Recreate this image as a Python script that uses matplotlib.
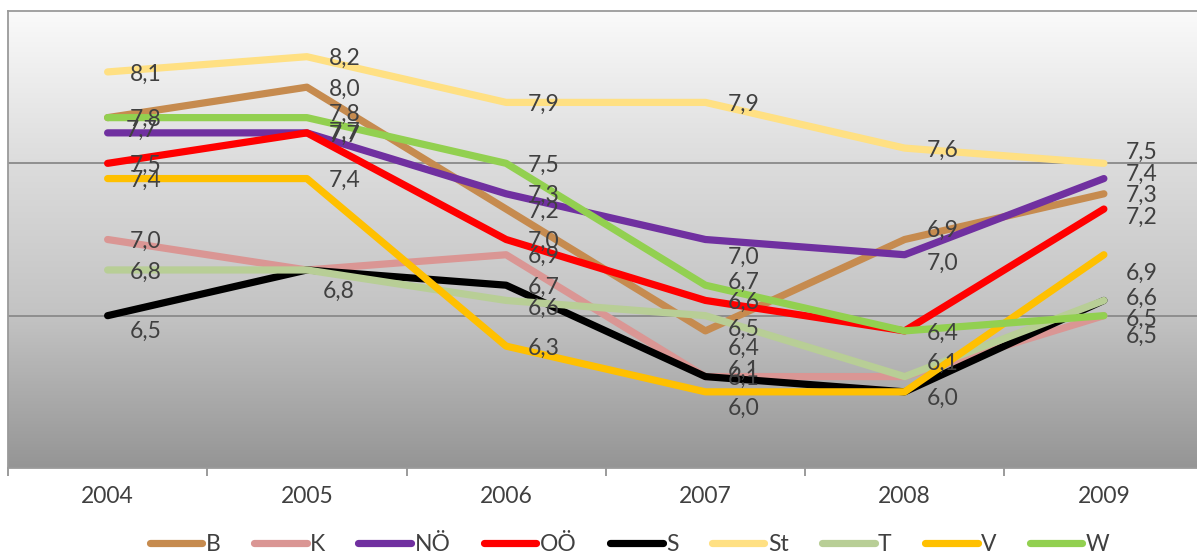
import numpy as np
import matplotlib
matplotlib.use("Agg")
import matplotlib.pyplot as plt
from matplotlib.colors import LinearSegmentedColormap

plt.rcParams['font.family'] = ['Lato', 'DejaVu Sans']

years = ['2004', '2005', '2006', '2007', '2008', '2009']
series_names = ['B', 'K', 'NÖ', 'OÖ', 'S', 'St', 'T', 'V', 'W']

B = [7.8, 8.0, 7.2, 6.4, 7.0, 7.3]
K = [7.0, 6.8, 6.9, 6.1, 6.1, 6.5]
NOE = [7.7, 7.7, 7.3, 7.0, 6.9, 7.4]
OOE = [7.5, 7.7, 7.0, 6.6, 6.4, 7.2]
S = [6.5, 6.8, 6.7, 6.1, 6.0, 6.6]
St = [8.1, 8.2, 7.9, 7.9, 7.6, 7.5]
T = [6.8, 6.8, 6.6, 6.5, 6.1, 6.6]
V = [7.4, 7.4, 6.3, 6.0, 6.0, 6.9]
W = [7.8, 7.8, 7.5, 6.7, 6.4, 6.5]

values = [B, K, NOE, OOE, S, St, T, V, W]
colors = ['#C68B4F', '#DA9694', '#7030A0', '#FF0000', '#000000',
          '#FFE083', '#B8CE96', '#FFC000', '#92D050']

# label nudges in pixels (dx, dy down), default is right of the point
nudge = {
    ('NÖ', 0): (18, -5), ('S', 0): (22, 14),
    ('W', 1): (22, -5), ('NÖ', 1): (22, -3),
    ('K', 1): (16, 19), ('T', 1): (16, 19), ('S', 1): (16, 19),
    ('T', 2): (22, 6),
    ('NÖ', 3): (22, 16), ('W', 3): (22, -5), ('T', 3): (22, 12),
    ('B', 3): (22, 15), ('K', 3): (22, -8), ('V', 3): (22, 15),
    ('NÖ', 4): (22, -26), ('B', 4): (22, 22), ('T', 4): (22, -15),
    ('K', 4): (22, -15), ('S', 4): (22, 5), ('V', 4): (22, 5),
    ('St', 5): (22, -13), ('NÖ', 5): (22, -6), ('OÖ', 5): (22, 6),
    ('V', 5): (22, 17), ('T', 5): (22, -4), ('S', 5): (22, -4),
    ('W', 5): (22, 2), ('K', 5): (22, 19),
}

txt_color = '#404040'
fsize = 16.5

fig = plt.figure(figsize=(11.97, 5.56), dpi=100)
ax = fig.add_axes([8 / 1197, 88 / 556, 1195.5 / 1197, 457 / 556])

x = np.arange(len(years))
ax.set_xlim(-0.5, len(years) - 0.5)
ax.set_ylim(5.5, 8.5)

# gradient background
grad_cmap = LinearSegmentedColormap.from_list('bg', ['#959595', '#c3c3c3', '#dcdcdc', '#fafafa'])
grad = np.linspace(0, 1, 256).reshape(-1, 1)
ax.imshow(grad, extent=[-0.5, len(years) - 0.5, 5.5, 8.5], origin='lower',
          aspect='auto', cmap=grad_cmap, zorder=0)

for yv in [6.5, 7.5]:
    ax.axhline(yv, color='#8a8a8a', lw=1.3, zorder=1)

for name, vals, col in zip(series_names, values, colors):
    ax.plot(x, vals, color=col, lw=5.2, solid_capstyle='round',
            solid_joinstyle='round', label=name, zorder=2)

# labels that land exactly on top of each other are drawn once
drawn = set()
for name, vals in zip(series_names, values):
    for i, v in enumerate(vals):
        dx, dy = nudge.get((name, i), (22, 0))
        txt = f"{v:.1f}".replace('.', ',')
        key = (i, txt, dx, dy)
        if key in drawn:
            continue
        drawn.add(key)
        ax.annotate(txt, (x[i], v),
                    xytext=(dx, -dy), textcoords='offset pixels',
                    ha='left', va='center_baseline', fontsize=fsize,
                    color=txt_color, zorder=5)

ax.set_yticks([])
ax.set_xticks(x)
ax.set_xticklabels(years, fontsize=fsize, color=txt_color)
ax.tick_params(axis='x', which='major', length=0, pad=13)
ax.set_xticks(np.arange(-0.5, len(years) + 0.5, 1), minor=True)
ax.tick_params(axis='x', which='minor', length=6, color='#8a8a8a', width=1.2)

for side in ['top', 'left', 'bottom']:
    ax.spines[side].set_color('#9a9a9a')
    ax.spines[side].set_linewidth(1.3)
ax.spines['right'].set_visible(False)

handles, labels = ax.get_legend_handles_labels()
fig.legend(handles, labels, ncol=9, loc='center', bbox_to_anchor=(0.526, 0.02),
           frameon=False, fontsize=fsize, handlelength=2.3, handletextpad=0.15,
           columnspacing=1.45, labelcolor=txt_color)

fig.savefig('out.png', dpi=100)
